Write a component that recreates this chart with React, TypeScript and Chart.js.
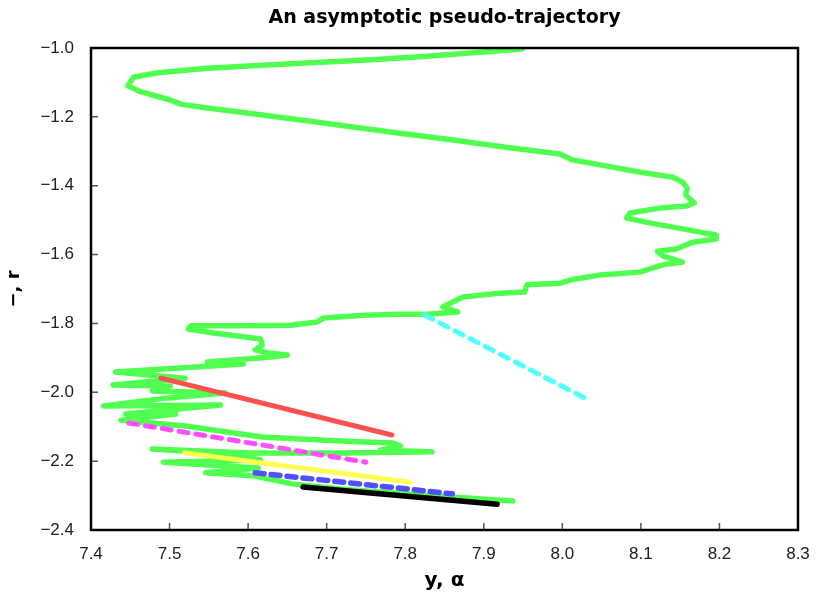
import React, { useEffect, useRef } from 'react';
import { Chart, registerables } from 'chart.js';

Chart.register(...registerables);

// Main (green) asymptotic pseudo-trajectory
const trajX = [
  7.949, 7.823, 7.752, 7.654, 7.548, 7.485, 7.454, 7.447, 7.463, 7.501,
  7.514, 7.548, 7.599, 7.696, 7.781, 7.861, 7.933, 7.997, 8.013, 8.057,
  8.098, 8.140, 8.153, 8.159, 8.157, 8.168, 8.158, 8.124, 8.086, 8.082,
  8.111, 8.162, 8.196, 8.196, 8.166, 8.145, 8.121, 8.128, 8.153, 8.128,
  8.098, 8.048, 8.010, 7.997, 7.955, 7.952, 7.921, 7.874, 7.863, 7.848,
  7.867, 7.828, 7.794, 7.747, 7.696, 7.688, 7.654, 7.590, 7.527, 7.524,
  7.556, 7.616, 7.618, 7.609, 7.626, 7.650, 7.626, 7.548, 7.594, 7.431,
  7.520, 7.428, 7.501, 7.478, 7.571, 7.495, 7.416, 7.565, 7.444, 7.508,
  7.438, 7.520, 7.618, 7.724, 7.785, 7.794, 7.768, 7.834, 7.724, 7.603,
  7.478, 7.590, 7.616, 7.492, 7.613, 7.546, 7.609, 7.656, 7.717, 7.819,
  7.937,
];
const trajY = [
  -1.003, -1.025, -1.035, -1.046, -1.059, -1.072, -1.085, -1.110, -1.127, -1.151,
  -1.163, -1.174, -1.189, -1.218, -1.244, -1.267, -1.290, -1.308, -1.325, -1.343,
  -1.360, -1.375, -1.389, -1.407, -1.427, -1.450, -1.459, -1.465, -1.479, -1.494,
  -1.508, -1.529, -1.543, -1.555, -1.564, -1.584, -1.590, -1.604, -1.622, -1.630,
  -1.651, -1.659, -1.674, -1.683, -1.688, -1.709, -1.712, -1.723, -1.735, -1.752,
  -1.767, -1.773, -1.773, -1.776, -1.784, -1.796, -1.805, -1.807, -1.807, -1.816,
  -1.828, -1.845, -1.863, -1.877, -1.886, -1.892, -1.898, -1.912, -1.918, -1.941,
  -1.959, -1.979, -1.982, -1.996, -2.002, -2.017, -2.040, -2.037, -2.063, -2.063,
  -2.081, -2.098, -2.130, -2.142, -2.147, -2.156, -2.168, -2.173, -2.176, -2.176,
  -2.165, -2.182, -2.197, -2.203, -2.220, -2.234, -2.243, -2.266, -2.281, -2.298,
  -2.316,
];

// Straight segments
const redX = [7.489, 7.783];
const redY = [-1.959, -2.124];
const magentaX = [7.448, 7.750];
const magentaY = [-2.089, -2.203];
const yellowX = [7.519, 7.806];
const yellowY = [-2.176, -2.261];
const blueX = [7.609, 7.860];
const blueY = [-2.234, -2.295];
const blackX = [7.670, 7.917];
const blackY = [-2.275, -2.325];
const cyanX = [7.825, 8.029];
const cyanY = [-1.776, -2.017];

// Axis ranges / ticks
const xRange = [7.4, 8.3];
const xStep = 0.1;
const yRange = [-2.4, -1.0];
const yStep = 0.2;

const titleText = 'An asymptotic pseudo-trajectory';
const xTitle = 'y, α';
const yTitle = '−, r';

const pts = (xs: number[], ys: number[]) => xs.map((x, i) => ({ x, y: ys[i] }));
const fmt = (v: number | string) => Number(v).toFixed(1).replace('-', '−');

const framePlugin = {
  id: 'frameTicks',
  beforeInit(chart: any) {
    try { chart.ctx.letterSpacing = '1.5px'; } catch (e) {}
  },
  afterDatasetsDraw(chart: any) {
    const { ctx, chartArea: a, scales } = chart;
    ctx.save();
    ctx.strokeStyle = '#555';
    ctx.lineWidth = 1.5;
    ctx.beginPath();
    scales.x.ticks.forEach((t: any) => {
      const px = scales.x.getPixelForValue(t.value);
      ctx.moveTo(px, a.bottom);
      ctx.lineTo(px, a.bottom - 7);
    });
    scales.y.ticks.forEach((t: any) => {
      const py = scales.y.getPixelForValue(t.value);
      ctx.moveTo(a.left, py);
      ctx.lineTo(a.left + 7, py);
    });
    ctx.stroke();
    ctx.strokeStyle = '#000';
    ctx.lineWidth = 2.5;
    ctx.strokeRect(a.left, a.top, a.right - a.left, a.bottom - a.top);
    ctx.restore();
  },
};

export default function App() {
  const ref = useRef<HTMLCanvasElement>(null);
  useEffect(() => {
    if (!ref.current) return;
    const line = (xs: number[], ys: number[], color: string, width: number, dash: number[] | undefined, order: number) => ({
      data: pts(xs, ys),
      showLine: true,
      borderColor: color,
      backgroundColor: color,
      borderWidth: width,
      borderDash: dash || [],
      borderCapStyle: 'round',
      borderJoinStyle: 'round',
      pointRadius: 0,
      tension: 0,
      order,
    });
    const chart = new Chart(ref.current, {
      type: 'scatter',
      data: {
        datasets: [
          line(trajX, trajY, '#50ff50', 5.5, undefined, 10),
          line(redX, redY, '#ff5050', 5, undefined, 5),
          line(magentaX, magentaY, '#ff50ff', 5, [9, 8], 5),
          line(yellowX, yellowY, '#ffff50', 5, undefined, 5),
          line(blueX, blueY, '#5050ff', 5.5, [9, 7], 4),
          line(blackX, blackY, '#000000', 5.5, undefined, 3),
          line(cyanX, cyanY, '#50ffff', 5, [9, 8], 5),
        ] as any,
      },
      options: {
        animation: false,
        responsive: false,
        layout: { padding: { left: 0, right: 18, top: 0, bottom: 0 } },
        plugins: {
          legend: { display: false },
          tooltip: { enabled: false },
          title: {
            display: true,
            text: titleText,
            fullSize: false,
            color: '#000',
            font: { family: 'DejaVu Sans', size: 19, weight: 'bold' },
            padding: { top: 7, bottom: 18.2 },
          },
        },
        scales: {
          x: {
            type: 'linear',
            min: xRange[0],
            max: xRange[1],
            grid: { display: false },
            border: { display: false },
            ticks: {
              stepSize: xStep,
              color: '#222',
              padding: 6,
              font: { family: 'Liberation Sans', size: 17 },
              callback: (v: any) => fmt(v),
            },
            title: {
              display: true,
              text: xTitle,
              color: '#000',
              font: { family: 'DejaVu Sans', size: 20, weight: 'bold' },
              padding: { top: 0, bottom: 6 },
            },
            afterFit: (s: any) => { s.height = 69; },
          },
          y: {
            type: 'linear',
            min: yRange[0],
            max: yRange[1],
            grid: { display: false },
            border: { display: false },
            ticks: {
              stepSize: yStep,
              color: '#222',
              padding: 9,
              font: { family: 'Liberation Sans', size: 17 },
              callback: (v: any) => fmt(v),
            },
            title: {
              display: true,
              text: yTitle,
              color: '#000',
              font: { family: 'DejaVu Sans', size: 18, weight: 'bold' },
              padding: { top: 4, bottom: 0 },
            },
            afterFit: (s: any) => { s.width = 91; },
          },
        },
      } as any,
      plugins: [framePlugin],
    });
    return () => chart.destroy();
  }, []);
  return (
    <div style={{ position: 'absolute', left: 0, top: 0, width: 816, height: 599, background: '#fff' }}>
      <canvas ref={ref} width={816} height={599} style={{ display: 'block' }} />
    </div>
  );
}
